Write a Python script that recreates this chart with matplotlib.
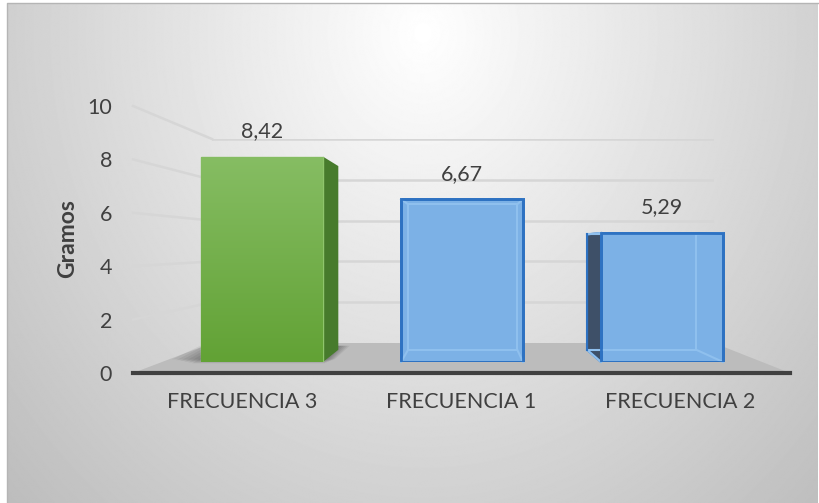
import numpy as np
import matplotlib.pyplot as plt
from matplotlib.patches import Polygon
from matplotlib.transforms import IdentityTransform

frecuencias = ['FRECUENCIA 3', 'FRECUENCIA 1', 'FRECUENCIA 2']
gramos = [8.42, 6.67, 5.29]
ticks_y = [0, 2, 4, 6, 8, 10]

W, H = 819, 503
plt.rcParams['font.family'] = ['Lato', 'DejaVu Sans']
TXT = '#404040'
FS = 15.5

fig = plt.figure(figsize=(W / 100, H / 100), dpi=100)
fig.patch.set_facecolor('white')

# fake 3D: every depth plane is the front frame scaled towards a vanishing point (pixels, from top)
VP = (468, 246)
FRONT = (133, 790, 373, 106)  # x left, x right, y of 0, y of 10


def plane(s, z):
    x0 = VP[0] + s * (FRONT[0] - VP[0])
    x1 = VP[0] + s * (FRONT[1] - VP[0])
    yb = VP[1] + s * (FRONT[2] - VP[1])
    yt = VP[1] + s * (FRONT[3] - VP[1])
    ax = fig.add_axes([x0 / W, 1 - yb / H, (x1 - x0) / W, (yb - yt) / H], zorder=z)
    ax.set_xlim(-0.5, 2.5)
    ax.set_ylim(0, 10)
    ax.patch.set_visible(False)
    ax.axis('off')
    return ax


# background with soft radial gradient
bg = fig.add_axes([0, 0, 1, 1], zorder=0)
bg.axis('off')
yy, xx = np.mgrid[0:H, 0:W]
d = np.sqrt(((xx - 420) / 560.0) ** 2 + ((yy - 30) / 650.0) ** 2)
shade = np.clip(1.0 - 0.25 * d, 0, 1)
bg.imshow(shade, cmap='gray', vmin=0, vmax=1, extent=(7, W - 1, H, 3), aspect='auto')
bg.set_xlim(0, W)
bg.set_ylim(H, 0)
bg.plot([7, 7, W - 1], [H, 3, 3], color='#b5b5b5', lw=1)

ax_wall = plane(0.764, 1)
ax_bbk = plane(0.913 * 0.895, 2)
ax_bar = plane(0.913, 3)
ax = plane(1.0, 4)
ax.axis('on')


def px(a, x, y):
    return a.transData.transform((x, y))


def poly(a, pts, **kw):
    p = Polygon(np.array(pts), closed=True, transform=IdentityTransform(), clip_on=False, **kw)
    a.add_artist(p)
    return p


# floor
poly(ax_wall, [px(ax, -0.5, 0), px(ax, 2.5, 0), px(ax_wall, 2.5, 0), px(ax_wall, -0.5, 0)],
     facecolor='#bcbcbc', edgecolor='none', zorder=1)

# gridlines on back wall and side wall
for v in ticks_y[1:]:
    ax_wall.plot([-0.5, 2.5], [v, v], color='#d6d6d6', lw=1.8, zorder=0)
    a, b = px(ax, -0.5, v), px(ax_wall, -0.5, v)
    ax_wall.plot([a[0], b[0]], [a[1], b[1]], color='#d6d6d6', lw=1.8,
                 transform=IdentityTransform(), clip_on=False, zorder=0)

width = 0.61
x = np.arange(len(gramos))
colors = ['#6aa93e', '#7cb1e6', '#7cb1e6']
bars = ax_bar.bar(x, gramos, width=width, color=colors, zorder=3)
back = ax_bbk.bar(x, gramos, width=width, color='none', zorder=1)
vp_disp = fig.transFigure.transform((VP[0] / W, 1 - VP[1] / H))

for i, (rect, brect, v) in enumerate(zip(bars, back, gramos)):
    l, r = x[i] - width / 2, x[i] + width / 2
    fl, fr = px(ax_bar, l, 0), px(ax_bar, r, 0)
    bl, br = px(ax_bbk, l, 0), px(ax_bbk, r, 0)
    flt, frt = px(ax_bar, l, v), px(ax_bar, r, v)
    blt, brt = px(ax_bbk, l, v), px(ax_bbk, r, v)
    green = i == 0
    if green:
        # soft shadow on the floor
        for k in range(6):
            e = 3 + 4 * k
            poly(ax_wall, [(fl[0] - e - 6, fl[1] + e * 0.2 - 2), (fr[0] + e * 0.5, fr[1] + e * 0.2 - 2),
                           (br[0] + e * 0.5, br[1] + 4), (bl[0] - e - 6, bl[1] + 4)],
                 facecolor='black', edgecolor='none', alpha=0.06, zorder=2)
        rect.set_edgecolor('#8fc56c')
        rect.set_linewidth(1)
        grad = np.linspace(0, 1, 100).reshape(-1, 1)
        im = ax_bar.imshow(grad, cmap=plt.matplotlib.colors.LinearSegmentedColormap.from_list(
            'g', ['#62a235', '#86bd63']), extent=(l, r, 0, v), origin='lower', aspect='auto', zorder=3.5)
        im.set_clip_path(rect)
        ax_bar.set_xlim(-0.5, 2.5)
        ax_bar.set_ylim(0, 10)
    else:
        rect.set_edgecolor('#2e72c2')
        rect.set_linewidth(2)
    # visible side face
    if fr[0] < vp_disp[0]:
        poly(ax_bar, [fr, frt, brt, br], facecolor='#477b2c' if green else '#3e5068',
             edgecolor='none' if green else '#2e72c2', lw=1.5, zorder=2)
    elif fl[0] > vp_disp[0]:
        poly(ax_bar, [fl, flt, blt, bl], facecolor='#477b2c' if green else '#3e5068',
             edgecolor='none' if green else '#2e72c2', lw=1.5, zorder=2)
    if not green:
        # back edges seen through the translucent box
        for p, q in [(bl, br), (br, brt), (brt, blt), (fl, bl), (fr, br), (flt, blt), (frt, brt)]:
            ax_bar.plot([p[0], q[0]], [p[1], q[1]], color='#8fc0ee', lw=1.5,
                        transform=IdentityTransform(), clip_on=False, zorder=4)
        ax_bar.plot([blt[0], bl[0]], [blt[1], bl[1]], color='#2e72c2' if fl[0] > vp_disp[0] else '#8fc0ee',
                    lw=1.5, transform=IdentityTransform(), clip_on=False, zorder=4)
        ax_bar.bar(x[i], v, width=width, color='none', edgecolor='#2e72c2', lw=2, zorder=5)
    ax_bar.annotate(f'{v:.2f}'.replace('.', ','), (x[i], v), xytext=(0, 18.5), textcoords='offset points',
                    ha='center', va='center', fontsize=FS, color=TXT, zorder=6)

# front axis: ticks, labels, base line
for side in ['top', 'right', 'left']:
    ax.spines[side].set_visible(False)
ax.spines['bottom'].set_color('#404040')
ax.spines['bottom'].set_linewidth(3)
ax.set_xticks(x)
ax.set_xticklabels(frecuencias)
ax.set_yticks(ticks_y)
ax.tick_params(length=0, labelsize=FS, labelcolor=TXT)
ax.tick_params(axis='x', pad=14)
ax.tick_params(axis='y', pad=15)
ax.set_ylabel('Gramos', fontsize=16.5, fontweight='bold', color=TXT)
ax.yaxis.set_label_coords(-0.084, 0.505)

fig.savefig('out.png', dpi=100)
